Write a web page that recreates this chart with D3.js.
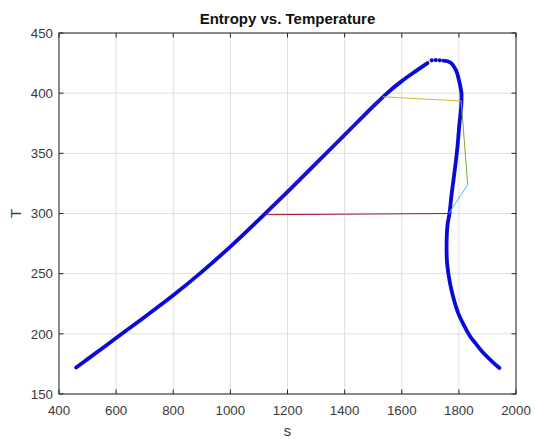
<!DOCTYPE html>
<html><head><meta charset="utf-8">
<script src="https://cdn.jsdelivr.net/npm/d3@7"></script>
<style>body{margin:0;background:#fff}text{font-family:"Liberation Sans",Arial,Helvetica,sans-serif}</style>
</head><body><svg id="c" width="535" height="439"></svg>
<script>
// ---- data ----
const xTicks = [400, 600, 800, 1000, 1200, 1400, 1600, 1800, 2000];
const yTicks = [150, 200, 250, 300, 350, 400, 450];
// saturated liquid branch
const liqS = [460, 500, 600, 700, 800, 900, 1000, 1100, 1200, 1300, 1400, 1500, 1550, 1600, 1650, 1690];
const liqT = [172, 179, 196.5, 214, 232, 251.5, 272.5, 295, 318, 341.6, 365.3, 389, 400.3, 410, 418.5, 425];
// sparse points near the critical point
const peakS = [1705, 1719, 1733];
const peakT = [427.3, 427.5, 427.3];
// saturated vapour branch
const vapS = [1746, 1770, 1790, 1802, 1809, 1808, 1802, 1795, 1787, 1775, 1767, 1760, 1757, 1759, 1769, 1782, 1798, 1818, 1839, 1862, 1886, 1912, 1942];
const vapT = [427, 425.5, 419, 409, 400, 388.6, 374.8, 355.4, 338.8, 316.8, 300, 290, 275, 258, 242, 229, 217, 207, 198, 191, 184, 178, 171.6];
// cycle segments
const purpleS = [1120, 1200, 1300, 1400, 1500, 1534];
const purpleT = [299, 318, 341.6, 365.3, 389, 397];
const yellowS = [1534, 1808];
const yellowT = [397, 393.5];
const greenS = [1808, 1831];
const greenT = [393.5, 324];
const cyanS = [1831, 1765];
const cyanT = [324, 300];
const redS = [1765, 1120];
const redT = [300, 299];

// ---- layout ----
const L = 59, R = 516, T0 = 33, B = 394;
const svg = d3.select("#c");
const x = d3.scaleLinear().domain([400, 2000]).range([L, R]);
const y = d3.scaleLinear().domain([150, 450]).range([B, T0]);
const axCol = "#262626";

// grid
svg.append("g").selectAll("line").data(xTicks).join("line")
  .attr("x1", d => x(d)).attr("x2", d => x(d)).attr("y1", T0).attr("y2", B)
  .attr("stroke", "#dfdfdf").attr("stroke-width", 1);
svg.append("g").selectAll("line").data(yTicks).join("line")
  .attr("y1", d => y(d)).attr("y2", d => y(d)).attr("x1", L).attr("x2", R)
  .attr("stroke", "#dfdfdf").attr("stroke-width", 1);

const pts = (s, t) => s.map((v, i) => [v, t[i]]);
const smooth = d3.line().x(d => x(d[0])).y(d => y(d[1])).curve(d3.curveCatmullRom.alpha(0.5));
const straight = d3.line().x(d => x(d[0])).y(d => y(d[1]));
const blue = "#0a0ad8";

// dome
[[liqS, liqT], [vapS, vapT]].forEach(([s, t]) => {
  svg.append("path").datum(pts(s, t)).attr("d", smooth)
    .attr("fill", "none").attr("stroke", blue).attr("stroke-width", 3.8)
    .attr("stroke-linecap", "round").attr("stroke-linejoin", "round");
});
svg.append("g").selectAll("circle").data(pts(peakS, peakT)).join("circle")
  .attr("cx", d => x(d[0])).attr("cy", d => y(d[1])).attr("r", 2.1).attr("fill", blue);

// cycle
const segs = [[purpleS, purpleT, "#7e2f8e", smooth, 0.55], [yellowS, yellowT, "#d9b532", straight, 1],
              [greenS, greenT, "#77ac30", straight, 1], [cyanS, cyanT, "#4dbeee", straight, 1],
              [redS, redT, "#a2142f", straight, 1]];
segs.forEach(([s, t, c, gen, op]) => {
  svg.append("path").datum(pts(s, t)).attr("d", gen)
    .attr("fill", "none").attr("stroke", c).attr("stroke-width", 1).attr("stroke-opacity", op);
});

// axes box with inward ticks
const tl = 4.5;
const ax = svg.append("g").attr("stroke", axCol).attr("stroke-width", 1).attr("fill", "none");
ax.append("rect").attr("x", L).attr("y", T0).attr("width", R - L).attr("height", B - T0);
xTicks.forEach(v => {
  ax.append("line").attr("x1", x(v)).attr("x2", x(v)).attr("y1", B).attr("y2", B - tl);
  ax.append("line").attr("x1", x(v)).attr("x2", x(v)).attr("y1", T0).attr("y2", T0 + tl);
});
yTicks.forEach(v => {
  ax.append("line").attr("y1", y(v)).attr("y2", y(v)).attr("x1", L).attr("x2", L + tl);
  ax.append("line").attr("y1", y(v)).attr("y2", y(v)).attr("x1", R).attr("x2", R - tl);
});

// labels
const lab = "#3a3a3a";
svg.append("g").selectAll("text").data(xTicks).join("text")
  .attr("x", d => x(d)).attr("y", B + 21).attr("text-anchor", "middle")
  .attr("font-size", 13.3).attr("fill", lab).text(d => d);
svg.append("g").selectAll("text").data(yTicks).join("text")
  .attr("x", L - 6).attr("y", d => y(d) + 4.7).attr("text-anchor", "end")
  .attr("font-size", 13.3).attr("fill", lab).text(d => d);
svg.append("text").attr("x", (L + R) / 2).attr("y", 436).attr("text-anchor", "middle")
  .attr("font-size", 14.7).attr("fill", lab).text("s");
svg.append("text").attr("transform", `translate(21,${(T0 + B) / 2}) rotate(-90)`)
  .attr("text-anchor", "middle").attr("font-size", 14.7).attr("fill", lab).text("T");
svg.append("text").attr("x", (L + R) / 2).attr("y", 24).attr("text-anchor", "middle")
  .attr("font-size", 15).attr("font-weight", "bold").attr("fill", "#111").text("Entropy vs. Temperature");
</script></body></html>
